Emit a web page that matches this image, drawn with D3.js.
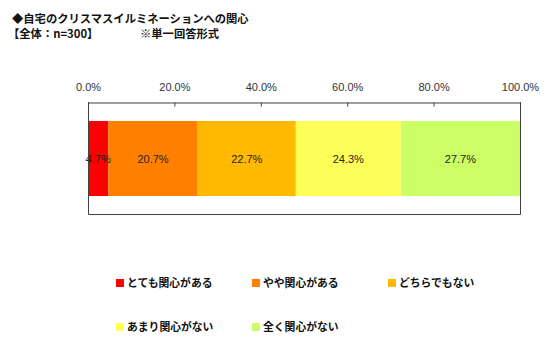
<!DOCTYPE html>
<html>
<head>
<meta charset="utf-8">
<script src="https://cdn.jsdelivr.net/npm/d3@7"></script>
<style>
  body { margin: 0; background: #fff; }
  svg { display: block; }
</style>
</head>
<body>
<div id="chart"></div>
<script>
// data
const categories = ["とても関心がある", "やや関心がある", "どちらでもない", "あまり関心がない", "全く関心がない"];
const values = [4.7, 20.7, 22.7, 24.3, 27.7];
const colors = ["#FF0000", "#FF8000", "#FFB900", "#FFFF5A", "#CCFF66"];
const tickValues = [0, 20, 40, 60, 80, 100];
const titleLines = ["◆自宅のクリスマスイルミネーションへの関心", "【全体：n=300】"];
const noteText = "※単一回答形式";

const W = 558, H = 351;
const jp = "'Noto Sans CJK JP', sans-serif";
const num = "'Liberation Sans', Arial, sans-serif";

const svg = d3.select("#chart").append("svg")
    .attr("width", W)
    .attr("height", H);

svg.append("rect").attr("width", W).attr("height", H).attr("fill", "#fff");

// title
svg.selectAll(".title")
    .data(titleLines)
    .enter().append("text")
    .attr("class", "title")
    .attr("x", (d, i) => i === 0 ? 12 : 8)
    .attr("y", (d, i) => 23 + i * 15)
    .style("font-family", jp)
    .style("font-size", "11.3px")
    .style("font-weight", "bold")
    .style("fill", "#111")
    .text(d => d);

svg.append("text")
    .attr("x", 140)
    .attr("y", 38)
    .style("font-family", jp)
    .style("font-size", "11.3px")
    .style("font-weight", "bold")
    .style("fill", "#111")
    .text(noteText);

// plot box
const box = { left: 88, right: 520, top: 102, bottom: 214 };
const bar = { top: 121, bottom: 196 };

const x = d3.scaleLinear()
    .domain([0, 100])
    .range([box.left, box.right]);

// stacked segments
let acc = 0;
const segs = values.map((v, i) => {
    const s = { key: categories[i], value: v, x0: acc, x1: acc + v, color: colors[i] };
    acc += v;
    return s;
});
const xMax = x.domain()[1];

svg.selectAll(".seg")
    .data(segs)
    .enter().append("rect")
    .attr("class", "seg")
    .attr("x", d => x(d.x0))
    .attr("y", bar.top)
    .attr("width", d => x(Math.min(d.x1, xMax)) - x(d.x0))
    .attr("height", bar.bottom - bar.top)
    .attr("fill", d => d.color);

svg.selectAll(".val")
    .data(segs)
    .enter().append("text")
    .attr("class", "val")
    .attr("x", d => (x(d.x0) + x(Math.min(d.x1, xMax))) / 2)
    .attr("y", (bar.top + bar.bottom) / 2 + 4)
    .attr("text-anchor", "middle")
    .style("font-family", num)
    .style("font-size", "11px")
    .style("fill", "#222")
    .text(d => d.value.toFixed(1) + "%");

// frame: left, right, bottom lines
const frame = svg.append("g")
    .attr("stroke", "#404040")
    .attr("stroke-width", 1)
    .attr("fill", "none");
frame.append("path")
    .attr("d", `M${box.left + 0.5},${box.top}V${box.bottom + 0.5}H${box.right + 0.5}V${box.top}`);

// top axis, ticks pointing inward
const axis = d3.axisTop(x)
    .tickValues(tickValues)
    .tickSize(-4)
    .tickSizeOuter(0)
    .tickPadding(12)
    .tickFormat(d => d.toFixed(1) + "%");

const gAxis = svg.append("g")
    .attr("transform", `translate(0,${box.top + 0.5})`)
    .call(axis);

gAxis.select(".domain").attr("stroke", "#404040");
gAxis.selectAll(".tick line").attr("stroke", "#404040");
gAxis.selectAll(".tick text")
    .style("font-family", num)
    .style("font-size", "11px")
    .style("fill", "#333");

// legend
const legendPos = [
    { x: 116, y: 283 }, { x: 252, y: 283 }, { x: 388, y: 283 },
    { x: 116, y: 327 }, { x: 252, y: 327 }
];

const legend = svg.selectAll(".legend")
    .data(segs)
    .enter().append("g")
    .attr("class", "legend")
    .attr("transform", (d, i) => `translate(${legendPos[i].x},${legendPos[i].y})`);

legend.append("rect")
    .attr("x", 0)
    .attr("y", -4)
    .attr("width", 8)
    .attr("height", 8)
    .attr("fill", d => d.color);

legend.append("text")
    .attr("x", 11)
    .attr("y", 4)
    .style("font-family", jp)
    .style("font-size", "10.8px")
    .style("font-weight", "bold")
    .style("fill", "#111")
    .text(d => d.key);
</script>
</body>
</html>
